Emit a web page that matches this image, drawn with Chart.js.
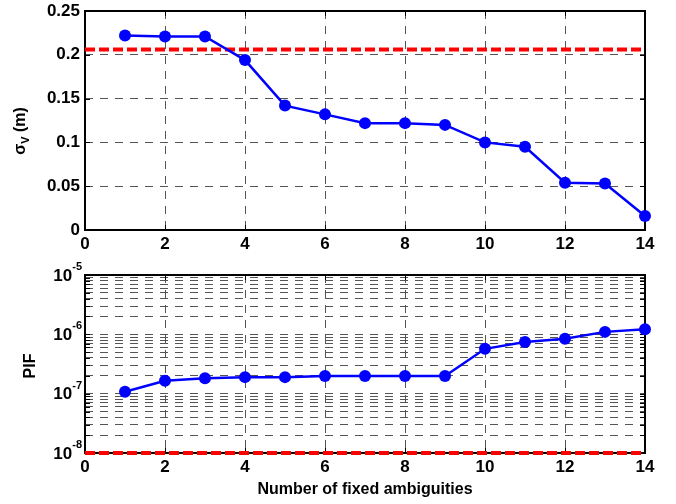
<!DOCTYPE html>
<html>
<head>
<meta charset="utf-8">
<script src="https://cdn.jsdelivr.net/npm/chart.js@4/dist/chart.umd.min.js"></script>
<style>
  body { margin: 0; background: #fff; }
  #wrap { position: relative; width: 676px; height: 504px; }
  canvas { position: absolute; left: 0; }
</style>
</head>
<body>
<div id="wrap">
  <canvas id="sigma-chart" width="676" height="250" style="top:0"></canvas>
  <canvas id="pif-chart" width="676" height="254" style="top:250px"></canvas>
</div>
<script>
  // data
  var fixedCount = [1, 2, 3, 4, 5, 6, 7, 8, 9, 10, 11, 12, 13, 14];
  var sigmaV = [0.222, 0.221, 0.221, 0.194, 0.142, 0.132, 0.122, 0.122, 0.120, 0.100, 0.095, 0.054, 0.053, 0.016];
  var pif = [1.08e-7, 1.65e-7, 1.82e-7, 1.9e-7, 1.9e-7, 1.98e-7, 1.98e-7, 1.98e-7, 1.98e-7, 5.7e-7, 7.4e-7, 8.4e-7, 1.1e-6, 1.22e-6];
  var sigmaLimit = 0.206;
  var pifLimit = 1e-8;
  var xRange = [0, 14];
  var sigmaTicks = [0, 0.05, 0.1, 0.15, 0.2, 0.25];
  var pifPowers = [-8, -7, -6, -5];

  var FONT = "'Liberation Sans', Arial, Helvetica, sans-serif";
  var BLUE = '#0000ff';
  var RED = '#ff0000';
  var GRID = '#555';

  function points(ys) {
    return fixedCount.map(function (x, i) { return { x: x, y: ys[i] }; });
  }
  function limitLine(v) {
    return [{ x: xRange[0], y: v }, { x: xRange[1], y: v }];
  }

  // log grid: 1..9 x 10^n like matlab
  var pifGrid = [];
  for (var p = pifPowers[0]; p < pifPowers[pifPowers.length - 1]; p++) {
    for (var m = 1; m < 10; m++) pifGrid.push(m * Math.pow(10, p));
  }
  pifGrid.push(Math.pow(10, pifPowers[pifPowers.length - 1]));

  var boxPlugin = {
    id: 'box',
    beforeDatasetsDraw: function (chart) {
      var a = chart.chartArea, ctx = chart.ctx;
      var xs = chart.scales.x, ys = chart.scales.y;
      ctx.save();
      ctx.strokeStyle = '#000';
      ctx.lineWidth = 1;
      ctx.beginPath();
      ys.ticks.forEach(function (t) {
        var y = Math.round(ys.getPixelForValue(t.value)) + 0.5;
        ctx.moveTo(a.left, y); ctx.lineTo(a.left + 5, y);
        ctx.moveTo(a.right, y); ctx.lineTo(a.right - 5, y);
      });
      xs.ticks.forEach(function (t) {
        var x = Math.round(xs.getPixelForValue(t.value)) + 0.5;
        ctx.moveTo(x, a.bottom); ctx.lineTo(x, a.bottom - 5);
        ctx.moveTo(x, a.top); ctx.lineTo(x, a.top + 5);
      });
      ctx.stroke();
      ctx.lineWidth = 2;
      ctx.strokeRect(a.left, a.top, a.right - a.left, a.bottom - a.top);
      ctx.restore();
    }
  };

  function makeOptions(yScale, xHeight, padTop, xTitle) {
    return {
      responsive: false,
      animation: false,
      layout: { padding: { left: 0, right: 31, top: padTop, bottom: 0 } },
      plugins: { legend: { display: false }, tooltip: { enabled: false } },
      scales: {
        x: {
          type: 'linear',
          min: xRange[0],
          max: xRange[1],
          ticks: {
            stepSize: 2,
            color: '#000',
            padding: 4,
            font: { family: FONT, size: 17, weight: 'bold' },
            callback: function (v) { return String(v); }
          },
          grid: { color: GRID, lineWidth: 1, drawTicks: false },
          border: { display: false, dash: [8, 7] },
          title: xTitle,
          afterFit: function (s) {
            s.height = xHeight;
            s.paddingLeft = 0; s.paddingRight = 0;
          }
        },
        y: yScale
      }
    };
  }

  var sigmaChart = new Chart(document.getElementById('sigma-chart'), {
    type: 'line',
    data: {
      datasets: [{
        data: points(sigmaV),
        borderColor: BLUE,
        backgroundColor: BLUE,
        borderWidth: 2.5,
        pointRadius: 6,
        pointBorderWidth: 0,
        clip: false
      }, {
        data: limitLine(sigmaLimit),
        borderColor: RED,
        borderWidth: 4,
        borderDash: [10, 4],
        pointRadius: 0,
        clip: false
      }]
    },
    options: makeOptions({
      type: 'linear',
      min: sigmaTicks[0],
      max: sigmaTicks[sigmaTicks.length - 1],
      afterBuildTicks: function (s) {
        s.ticks = sigmaTicks.map(function (v) { return { value: v }; });
      },
      ticks: {
        color: '#000',
        padding: 5,
        font: { family: FONT, size: 17, weight: 'bold' },
        callback: function (v) { return String(v); }
      },
      grid: { color: GRID, lineWidth: 1, drawTicks: false },
      border: { display: false, dash: [8, 7] },
      afterFit: function (s) {
        s.width = 85;
        s.paddingTop = 0; s.paddingBottom = 0;
      }
    }, 20, 11, { display: false }),
    plugins: [boxPlugin, {
      id: 'sigmaTitle',
      afterDraw: function (chart) {
        var ctx = chart.ctx;
        var big = 'bold 16px ' + FONT, small = 'bold 11px ' + FONT;
        ctx.save();
        ctx.font = big;
        var w1 = ctx.measureText('\u03c3').width;
        var w3 = ctx.measureText(' (m)').width;
        ctx.font = small;
        var w2 = ctx.measureText('V').width;
        var total = w1 + w2 + w3;
        ctx.translate(21, 131);
        ctx.rotate(-Math.PI / 2);
        ctx.fillStyle = '#000';
        ctx.textBaseline = 'middle';
        ctx.textAlign = 'left';
        var x0 = -total / 2;
        ctx.font = big;
        ctx.fillText('\u03c3', x0, 0);
        ctx.font = small;
        ctx.fillText('V', x0 + w1, 5);
        ctx.font = big;
        ctx.fillText(' (m)', x0 + w1 + w2, 0);
        ctx.restore();
      }
    }]
  });

  var pifChart = new Chart(document.getElementById('pif-chart'), {
    type: 'line',
    data: {
      datasets: [{
        data: points(pif),
        borderColor: BLUE,
        backgroundColor: BLUE,
        borderWidth: 2.5,
        pointRadius: 6,
        pointBorderWidth: 0,
        clip: false
      }, {
        data: limitLine(pifLimit),
        borderColor: RED,
        borderWidth: 4,
        borderDash: [10, 4],
        pointRadius: 0,
        clip: false
      }]
    },
    options: makeOptions({
      type: 'logarithmic',
      min: Math.pow(10, pifPowers[0]),
      max: Math.pow(10, pifPowers[pifPowers.length - 1]),
      afterBuildTicks: function (s) {
        s.ticks = pifGrid.map(function (v) { return { value: v }; });
      },
      ticks: {
        autoSkip: false,
        callback: function () { return ''; }
      },
      grid: { color: GRID, lineWidth: 1, drawTicks: false },
      border: { display: false, dash: [8, 7] },
      afterFit: function (s) {
        s.width = 85;
        s.paddingTop = 0; s.paddingBottom = 0;
      }
    }, 51, 25, {
      display: true,
      text: 'Number of fixed ambiguities',
      color: '#000',
      font: { family: FONT, size: 16, weight: 'bold' },
      padding: { top: 0, bottom: 5 }
    }),
    plugins: [boxPlugin, {
      id: 'pifLabels',
      afterDraw: function (chart) {
        var ctx = chart.ctx, ys = chart.scales.y;
        ctx.save();
        ctx.fillStyle = '#000';
        ctx.textBaseline = 'middle';
        ctx.textAlign = 'left';
        pifPowers.forEach(function (p) {
          var y = ys.getPixelForValue(Math.pow(10, p));
          var e = String(p);
          ctx.font = 'bold 11px ' + FONT;
          var we = ctx.measureText(e).width;
          ctx.font = 'bold 17px ' + FONT;
          var wb = ctx.measureText('10').width;
          var right = 82;
          ctx.fillText('10', right - we - wb, y + 1);
          ctx.font = 'bold 11px ' + FONT;
          ctx.fillText(e, right - we, y - 8);
        });
        ctx.font = 'bold 16px ' + FONT;
        ctx.textAlign = 'center';
        ctx.translate(31, (chart.chartArea.top + chart.chartArea.bottom) / 2 + 2);
        ctx.rotate(-Math.PI / 2);
        ctx.fillText('PIF', 0, 0);
        ctx.restore();
      }
    }]
  });
</script>
</body>
</html>
